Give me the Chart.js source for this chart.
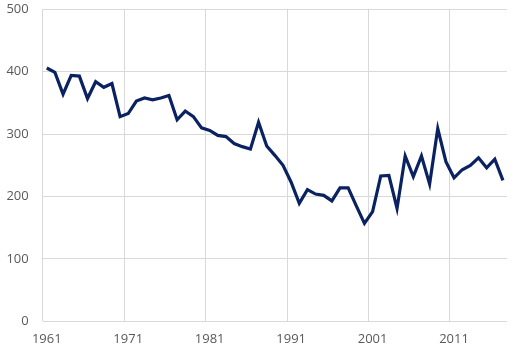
<!DOCTYPE html>
<html>
<head>
<meta charset="utf-8">
<script src="https://cdn.jsdelivr.net/npm/chart.js@4"></script>
<style>
html,body{margin:0;padding:0;background:#fff;}
canvas{display:block;}
</style>
</head>
<body>
<canvas id="c" width="517" height="357"></canvas>
<script>
const years = [];
for (let y = 1961; y <= 2017; y++) years.push(String(y));
const values = [
  406, 399, 364, 394, 393, 357, 384, 375, 381, 328,
  333, 353, 358, 355, 358, 362, 323, 337, 328, 310,
  306, 298, 296, 285, 280, 276, 319, 281, 266, 250,
  223, 189, 211, 204, 202, 193, 214, 214, 185, 157,
  176, 233, 234, 181, 265, 232, 265, 220, 309, 256,
  230, 243, 250, 262, 246, 260, 226
];
const yTicks = [0, 100, 200, 300, 400, 500];
const labelEvery = 10;

const gridColor = '#d9d9d9';
const textColor = '#595959';

new Chart(document.getElementById('c'), {
  type: 'line',
  data: {
    labels: years,
    datasets: [{
      data: values,
      borderColor: '#0a2261',
      borderWidth: 3.2,
      pointRadius: 0,
      tension: 0,
      fill: false
    }]
  },
  options: {
    responsive: false,
    animation: false,
    plugins: { legend: { display: false }, tooltip: { enabled: false } },
    layout: { padding: { top: 9.3, right: 10, left: 0, bottom: 0 } },
    scales: {
      x: {
        type: 'category',
        offset: true,
        border: { display: false },
        grid: {
          offset: true,
          drawTicks: false,
          lineWidth: 1,
          color: ctx => (ctx.index % labelEvery === 0) ? gridColor : 'rgba(0,0,0,0)'
        },
        ticks: {
          autoSkip: false,
          maxRotation: 0,
          minRotation: 0,
          padding: 10,
          color: textColor,
          font: { family: 'Open Sans', size: 13 },
          callback: function(val, idx) {
            return idx % labelEvery === 0 ? this.getLabelForValue(val) : '';
          }
        }
      },
      y: {
        min: 0,
        max: 500,
        border: { display: false },
        grid: { color: gridColor, drawTicks: false, lineWidth: 1 },
        afterBuildTicks: axis => { axis.ticks = yTicks.map(v => ({ value: v })); },
        afterFit: axis => { axis.width = 42.7; axis.paddingTop = 0; axis.paddingBottom = 0; },
        ticks: {
          padding: 14,
          color: textColor,
          font: { family: 'Open Sans', size: 13 }
        }
      }
    }
  }
});
</script>
</body>
</html>
